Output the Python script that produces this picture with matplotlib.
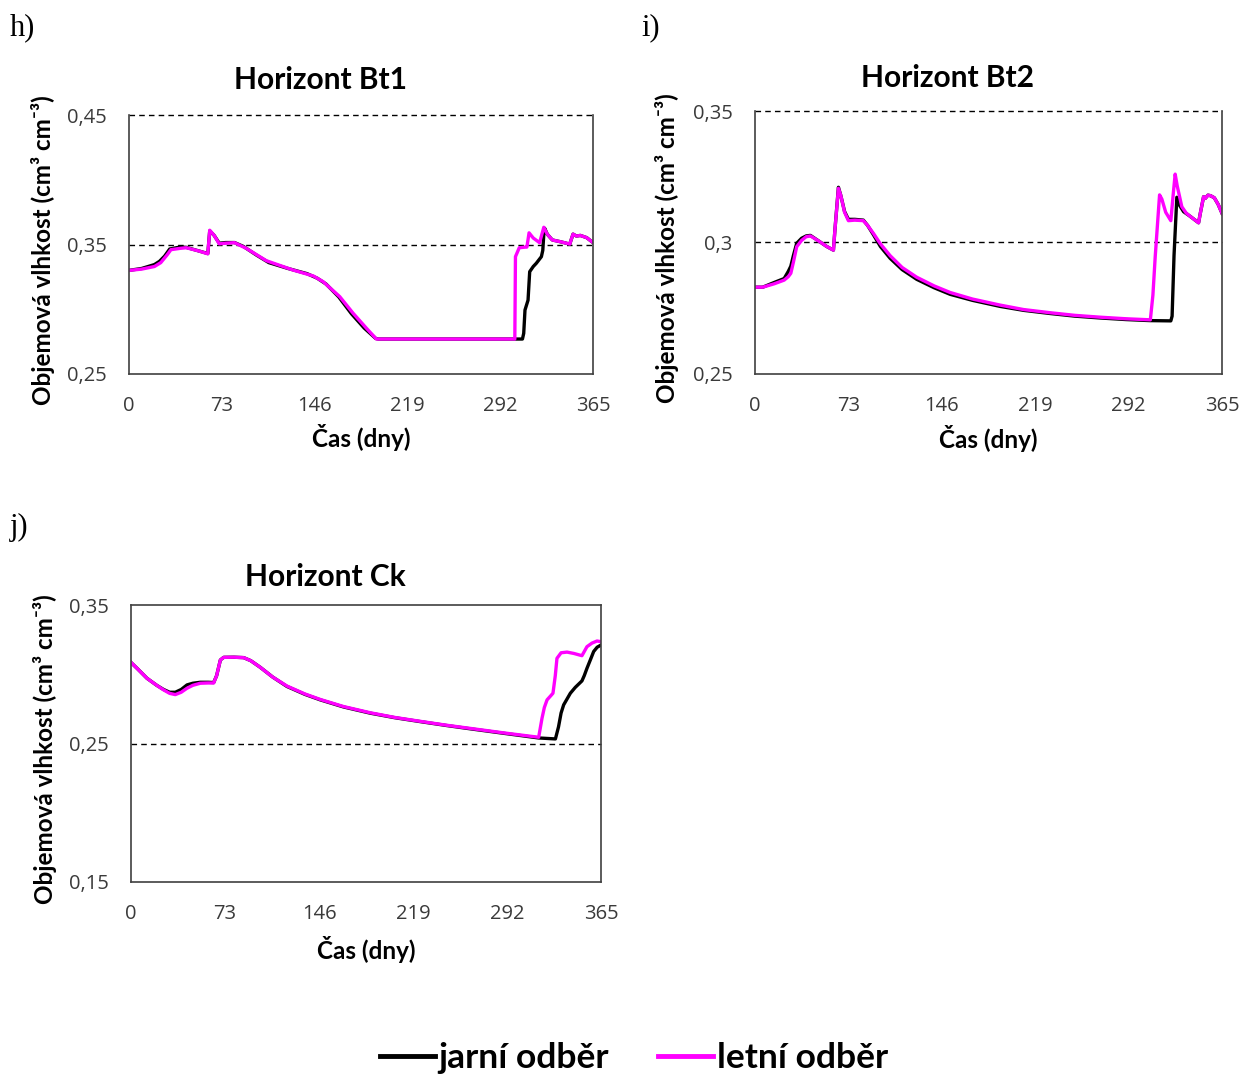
import matplotlib
matplotlib.use("Agg")
import matplotlib.pyplot as plt
from matplotlib.lines import Line2D

plt.rcParams['font.family'] = ['Lato', 'DejaVu Sans']

# ---- shared axis settings -------------------------------------------------
x_ticks = [0, 73, 146, 219, 292, 365]
x_label = "Čas (dny)"
y_label = "Objemová vlhkost (cm³ cm⁻³)"
series_names = ["jarní odběr", "letní odběr"]

# ---- Horizont Bt1 ----------------------------------------------------------
bt1_title = "Horizont Bt1"
bt1_yticks = [0.25, 0.35, 0.45]
bt1_yticklabels = ["0,25", "0,35", "0,45"]
bt1_jarni_day = [0, 10, 20, 24, 28, 32, 40, 45, 55, 62, 63.5, 67, 71, 76, 83, 90,
                 100, 110, 125, 140, 148, 155, 165, 175, 185, 194, 196, 309.5,
                 310.5, 311.5, 313.9, 315.2, 318, 320.4, 324.4, 325.5, 326.3, 327,
                 329, 333, 340, 346.7, 349.3, 352, 355, 360, 365]
bt1_jarni_val = [0.330, 0.3315, 0.3345, 0.337, 0.341, 0.3465, 0.348, 0.3478, 0.345,
                 0.343, 0.3605, 0.357, 0.351, 0.3515, 0.3515, 0.3485, 0.342, 0.336,
                 0.3315, 0.3275, 0.324, 0.3195, 0.3095, 0.2965, 0.2855, 0.2775,
                 0.277, 0.277, 0.2814, 0.2994, 0.307, 0.329, 0.333, 0.3355, 0.3406,
                 0.3455, 0.358, 0.3625, 0.358, 0.3535, 0.352, 0.3503, 0.358, 0.3565,
                 0.357, 0.3553, 0.3515]
bt1_letni_day = [0, 10, 20, 25, 30, 33, 40, 45, 55, 62, 63.5, 67, 71, 76, 83, 92.3,
                 108, 129, 145, 152.7, 165.8, 176.3, 186.8, 194.6, 196, 303.5, 304,
                 307, 312, 313, 314.7, 318, 323, 326.3, 329, 333, 340, 346.7, 349.3,
                 352, 355, 360, 365]
bt1_letni_val = [0.330, 0.331, 0.333, 0.336, 0.342, 0.346, 0.347, 0.3475, 0.345,
                 0.3428, 0.361, 0.357, 0.3505, 0.351, 0.3514, 0.347, 0.3375, 0.3303,
                 0.3257, 0.3213, 0.3097, 0.2969, 0.2853, 0.2770, 0.277, 0.277,
                 0.3406, 0.3475, 0.348, 0.348, 0.359, 0.355, 0.3514, 0.3633, 0.358,
                 0.3535, 0.352, 0.3503, 0.358, 0.3565, 0.357, 0.3553, 0.3515]

# ---- Horizont Bt2 ----------------------------------------------------------
bt2_title = "Horizont Bt2"
bt2_yticks = [0.25, 0.30, 0.35]
bt2_yticklabels = ["0,25", "0,3", "0,35"]
bt2_jarni_day = [0, 6, 15, 22.8, 26, 28, 30, 32.6, 36.4, 40, 43.3, 50, 56, 61.3,
                 62.5, 65.2, 67, 70, 73, 78, 84.7, 88, 92.5, 98, 105.6, 115, 126.4,
                 140, 152.5, 170, 191.6, 210, 230.7, 250, 269.8, 290, 309, 325, 326,
                 327.5, 329.7, 332, 335, 340, 344, 346.7, 348, 350.6, 352, 354, 356,
                 359, 362, 365]
bt2_jarni_val = [0.2830, 0.2830, 0.2848, 0.2863, 0.2890, 0.2910, 0.2950, 0.2997,
                 0.3016, 0.3025, 0.3027, 0.3005, 0.2985, 0.2971, 0.305, 0.3210,
                 0.318, 0.3118, 0.3088, 0.3088, 0.3085, 0.3065, 0.3030, 0.2985,
                 0.2940, 0.2897, 0.2860, 0.2828, 0.2803, 0.2780, 0.2757, 0.2742,
                 0.2730, 0.2720, 0.2713, 0.2707, 0.2703, 0.2702, 0.2720, 0.2950,
                 0.3172, 0.3140, 0.3117, 0.3100, 0.3085, 0.3075, 0.3110, 0.3174,
                 0.3168, 0.3180, 0.3178, 0.3170, 0.3145, 0.3111]
bt2_letni_day = [0, 6, 15, 22.8, 26, 28, 30, 32.6, 36.4, 40, 43.3, 50, 56, 61.3,
                 62.5, 65.2, 67, 70, 73, 78, 84.7, 88, 92.5, 98, 105.6, 115, 126.4,
                 140, 152.5, 170, 191.6, 210, 230.7, 250, 269.8, 290, 309, 311,
                 312.8, 316.2, 318, 321, 325, 327, 328.4, 330, 333.6, 337, 340, 344,
                 346.7, 348, 350.6, 352, 354, 356, 359, 362, 365]
bt2_letni_val = [0.2830, 0.2830, 0.2843, 0.2857, 0.2870, 0.2883, 0.2925, 0.2984,
                 0.3008, 0.3022, 0.3025, 0.3005, 0.2985, 0.2971, 0.305, 0.3206,
                 0.318, 0.3115, 0.3083, 0.3085, 0.3083, 0.3065, 0.3035, 0.2995,
                 0.2950, 0.2905, 0.2868, 0.2835, 0.2810, 0.2785, 0.2762, 0.2745,
                 0.2733, 0.2723, 0.2716, 0.2710, 0.2706, 0.2800, 0.2946, 0.3181,
                 0.3165, 0.3115, 0.3083, 0.3190, 0.3260, 0.3215, 0.3136, 0.3112,
                 0.3100, 0.3085, 0.3075, 0.3110, 0.3174, 0.3168, 0.3180, 0.3178,
                 0.3170, 0.3145, 0.3111]

# ---- Horizont Ck -----------------------------------------------------------
ck_title = "Horizont Ck"
ck_yticks = [0.15, 0.25, 0.35]
ck_yticklabels = ["0,15", "0,25", "0,35"]
ck_jarni_day = [0, 5, 12.4, 20, 25.3, 30, 34.4, 39, 43.5, 48, 53.8, 60, 64.2, 66.5,
                69.4, 72, 80, 87.5, 93, 100.4, 110, 121.1, 135, 147, 165, 185.8,
                205, 224.7, 245, 263.5, 290, 316.6, 329.6, 332, 334, 336, 341.2,
                345, 350.2, 352, 354.1, 357, 359.3, 362, 365]
ck_jarni_val = [0.3085, 0.3040, 0.2971, 0.2920, 0.2890, 0.2870, 0.2870, 0.2890,
                0.2923, 0.2935, 0.2942, 0.2942, 0.2940, 0.2990, 0.3103, 0.3122,
                0.3123, 0.3120, 0.3098, 0.3050, 0.2980, 0.2912, 0.2855, 0.2815,
                0.2764, 0.2719, 0.2686, 0.2658, 0.2630, 0.2606, 0.2573, 0.2540,
                0.2533, 0.2620, 0.2720, 0.2779, 0.2863, 0.2905, 0.2952, 0.2990,
                0.3043, 0.3110, 0.3164, 0.3195, 0.3211]
ck_letni_day = [0, 5, 12.4, 20, 25.3, 30, 34.4, 39, 43.5, 48, 53.8, 60, 64.2, 66.5,
                69.4, 72, 80, 87.5, 93, 100.4, 110, 121.1, 135, 147, 165, 185.8,
                205, 224.7, 245, 263.5, 290, 316.6, 319.2, 321, 323.1, 326, 327.7,
                329.5, 330.8, 334, 338.6, 344, 350.2, 354.1, 358, 361.9, 365]
ck_letni_val = [0.3085, 0.3040, 0.2971, 0.2920, 0.2887, 0.2862, 0.2853, 0.2870,
                0.2899, 0.2920, 0.2935, 0.2937, 0.2937, 0.2990, 0.3103, 0.3122,
                0.3123, 0.3120, 0.3098, 0.3050, 0.2980, 0.2915, 0.2858, 0.2818,
                0.2767, 0.2722, 0.2688, 0.2660, 0.2632, 0.2609, 0.2576, 0.2545,
                0.2683, 0.2760, 0.2815, 0.2845, 0.2863, 0.2990, 0.3115, 0.3155,
                0.3160, 0.3150, 0.3134, 0.3199, 0.3225, 0.3240, 0.3235]

# ---- styling ----------------------------------------------------------------
JARNI_COLOR = "black"
LETNI_COLOR = "#FF00FF"
TICK_COLOR = "#3a3a3a"
SPINE_COLOR = "#404040"
W, H = 1242, 1075

fig = plt.figure(figsize=(W / 100, H / 100), dpi=100)


def px_axes(left, top, right, bottom):
    return fig.add_axes([left / W, 1 - bottom / H, (right - left) / W, (bottom - top) / H])


def draw_panel(ax, jd, jv, ld, lv, yticks, yticklabels, dashed, dashed_top, ylab_x):
    ax.plot(jd, jv, color=JARNI_COLOR, lw=2.4, solid_joinstyle="round")
    ax.plot(ld, lv, color=LETNI_COLOR, lw=2.4, solid_joinstyle="round")
    ax.set_xlim(0, 365)
    ax.set_ylim(yticks[0], yticks[-1])
    ax.set_xticks(x_ticks)
    ax.set_xticklabels([str(t) for t in x_ticks])
    ax.set_yticks(yticks)
    ax.set_yticklabels(yticklabels)
    ax.tick_params(length=0, labelsize=14.5, colors=TICK_COLOR)
    ax.tick_params(axis="y", pad=16)
    ax.tick_params(axis="x", pad=16)
    for lab in ax.get_xticklabels() + ax.get_yticklabels():
        lab.set_family(["Open Sans", "DejaVu Sans"])
    for s in ax.spines.values():
        s.set_color(SPINE_COLOR)
        s.set_linewidth(1.2)
    for y in dashed:
        ax.axhline(y, color="black", lw=1.0, ls=(0, (4, 3)), zorder=0.5, clip_on=False)
    if dashed_top:
        ax.spines["top"].set_visible(False)
    ax.set_xlabel(x_label, fontsize=17.5, fontweight="bold")
    ax.xaxis.set_label_coords(0.5, -0.245)
    ax.xaxis.label.set_va("center")
    ax.set_ylabel(y_label, fontsize=17.5, fontweight="bold")
    ax.yaxis.set_label_coords(ylab_x, 0.48)
    ax.yaxis.label.set_va("center")


ax_h = px_axes(129, 115, 593, 374)
draw_panel(ax_h, bt1_jarni_day, bt1_jarni_val, bt1_letni_day, bt1_letni_val,
           bt1_yticks, bt1_yticklabels, [0.35, 0.45], True, -0.185)

ax_i = px_axes(755, 111, 1222, 374)
draw_panel(ax_i, bt2_jarni_day, bt2_jarni_val, bt2_letni_day, bt2_letni_val,
           bt2_yticks, bt2_yticklabels, [0.30, 0.35], True, -0.188)

ax_j = px_axes(131, 605, 601, 882)
draw_panel(ax_j, ck_jarni_day, ck_jarni_val, ck_letni_day, ck_letni_val,
           ck_yticks, ck_yticklabels, [0.25], False, -0.183)

# panel titles
for txt, x, y in [(bt1_title, 320, 80), (bt2_title, 947, 78), (ck_title, 325, 577)]:
    fig.text(x / W, 1 - y / H, txt, ha="center", va="center", fontsize=21.5, fontweight="bold")

# panel letters
for txt, x, y in [("h)", 10, 28), ("i)", 641, 28), ("j)", 10, 527)]:
    fig.text(x / W, 1 - y / H, txt, ha="left", va="center", fontsize=22,
             family=["Liberation Serif", "DejaVu Serif"])

# legend
handles = [Line2D([], [], color=JARNI_COLOR, lw=3.5),
           Line2D([], [], color=LETNI_COLOR, lw=3.5)]
leg = fig.legend(handles, series_names, loc="center", bbox_to_anchor=(634 / W, 1 - 1058 / H),
                 ncol=2, frameon=False, handlelength=1.55, handletextpad=0.1,
                 columnspacing=1.4, prop={"size": 25.5, "weight": "bold"})

fig.savefig("out.png", dpi=100)
